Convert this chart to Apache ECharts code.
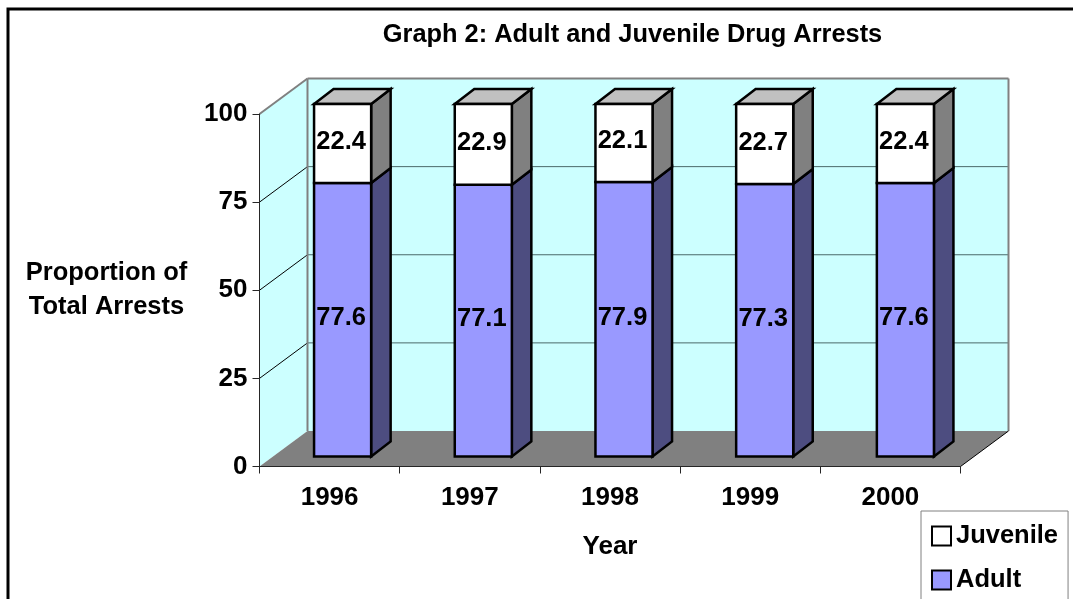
<!DOCTYPE html>
<html>
<head>
<meta charset="utf-8">
<style>
html, body { margin: 0; padding: 0; background: #fff; overflow: hidden; }
#chart { width: 1073px; height: 599px; }
</style>
<script src="https://cdn.jsdelivr.net/npm/echarts@6/dist/echarts.min.js"></script>
</head>
<body>
<div id="chart"></div>
<script>
var years = ["1996", "1997", "1998", "1999", "2000"];
var adult = [77.6, 77.1, 77.9, 77.3, 77.6];
var juvenile = [22.4, 22.9, 22.1, 22.7, 22.4];
var yTicks = [0, 25, 50, 75, 100];

var FONT = '"Liberation Sans", Arial, sans-serif';
var WALL_DX = 48, WALL_DY = 35.5;   // depth of the box
var BAR_IN_X = 13, BAR_IN_Y = 10;   // bars stand a little behind the front edge
var BAR_STEP = 0.5;                 // bars drift right of the axis ticks a bit
var BAR_DX = 19.5, BAR_DY = 15;     // depth of a bar
var BAR_WIDTH = 57 / 140;           // share of a category
var BAR_LINE = 2.5;

function poly(points, fill, stroke, width) {
  return {
    type: "polygon",
    shape: { points: points },
    style: { fill: fill, stroke: stroke || null, lineWidth: width || 0, lineJoin: "miter" }
  };
}

function line(x1, y1, x2, y2, color, width) {
  return {
    type: "line",
    shape: { x1: x1, y1: y1, x2: x2, y2: y2 },
    style: { stroke: color, lineWidth: width, fill: null }
  };
}

// walls, floor and gridlines of the 3D box
function renderBox(params, api) {
  var g = params.coordSys;
  var l = g.x, r = g.x + g.width;
  var bottom = api.coord([0, 0])[1], top = api.coord([0, 100])[1];
  var kids = [
    poly([[l, bottom], [l + WALL_DX, bottom - WALL_DY], [l + WALL_DX, top - WALL_DY], [l, top]], "#ccffff"),
    poly([[l + WALL_DX, bottom - WALL_DY], [r + WALL_DX, bottom - WALL_DY], [r + WALL_DX, top - WALL_DY], [l + WALL_DX, top - WALL_DY]], "#ccffff"),
    poly([[l, bottom], [r, bottom], [r + WALL_DX, bottom - WALL_DY], [l + WALL_DX, bottom - WALL_DY]], "#808080")
  ];
  yTicks.slice(1, -1).forEach(function (v) {
    var y = api.coord([0, v])[1];
    kids.push(line(l, y, l + WALL_DX, y - WALL_DY, "#000", 1));
    kids.push(line(l + WALL_DX, y - WALL_DY, r + WALL_DX, y - WALL_DY, "#4a6a6a", 1));
  });
  kids.push(line(l, top, l + WALL_DX, top - WALL_DY, "#808080", 2));
  kids.push(line(l + WALL_DX, top - WALL_DY, r + WALL_DX, top - WALL_DY, "#808080", 2));
  kids.push(line(l + WALL_DX, top - WALL_DY, l + WALL_DX, bottom - WALL_DY, "#808080", 2));
  kids.push(line(r + WALL_DX, top - WALL_DY, r + WALL_DX, bottom - WALL_DY, "#808080", 2));
  kids.push(line(l, top, l, bottom, "#404040", 1));
  kids.push(line(r, bottom, r + WALL_DX, bottom - WALL_DY, "#000", 1));
  return { type: "group", children: kids };
}

function barRenderer(front, side, withTop) {
  return function (params, api) {
    var i = api.value(0), base = api.value(1), end = api.value(2);
    var c0 = api.coord([i, base]), c1 = api.coord([i, end]);
    var w = api.size([1, 0])[0] * BAR_WIDTH;
    var x0 = c0[0] + BAR_IN_X + i * BAR_STEP - w / 2, x1 = x0 + w;
    var y0 = c0[1] - BAR_IN_Y, y1 = c1[1] - BAR_IN_Y;
    var kids = [
      poly([[x1, y0], [x1 + BAR_DX, y0 - BAR_DY], [x1 + BAR_DX, y1 - BAR_DY], [x1, y1]], side, "#000", BAR_LINE)
    ];
    if (withTop) {
      kids.push(poly([[x0, y1], [x1, y1], [x1 + BAR_DX, y1 - BAR_DY], [x0 + BAR_DX, y1 - BAR_DY]], "#c0c0c0", "#000", BAR_LINE));
    }
    kids.push(poly([[x0, y0], [x1, y0], [x1, y1], [x0, y1]], front, "#000", BAR_LINE));
    kids.push({
      type: "text",
      style: {
        x: (x0 + x1) / 2 - 1.5,
        y: (y0 + y1) / 2 - 1.5,
        text: (end - base).toFixed(1),
        font: "bold 25.5px " + FONT,
        fill: "#000",
        align: "center",
        verticalAlign: "middle"
      }
    });
    return { type: "group", children: kids };
  };
}

var chart = echarts.init(document.getElementById("chart"));
chart.setOption({
  animation: false,
  backgroundColor: "#fff",
  title: {
    text: "Graph 2: Adult and Juvenile Drug Arrests",
    left: 627.5,
    top: 17,
    textAlign: "center",
    textStyle: { fontFamily: FONT, fontSize: 25.4, fontWeight: "bold", color: "#000" }
  },
  graphic: [{
    type: "rect",
    z: -10,
    shape: { x: 8, y: 9, width: 1200, height: 800 },
    style: { fill: null, stroke: "#000", lineWidth: 3 }
  }],
  grid: { left: 259.5, right: 112.5, top: 114, bottom: 132.5, containLabel: false },
  legend: {
    orient: "vertical",
    left: 921,
    top: 511,
    height: 200,
    padding: [12, 10, 30, 10],
    itemWidth: 19,
    itemHeight: 19,
    itemGap: 18,
    icon: "rect",
    backgroundColor: "#fff",
    borderColor: "#808080",
    borderWidth: 1,
    data: ["Juvenile", "Adult"],
    textStyle: { fontFamily: FONT, fontSize: 25.5, fontWeight: "bold", color: "#000" },
    selectedMode: false
  },
  xAxis: {
    type: "category",
    data: years,
    name: "Year",
    nameLocation: "middle",
    nameGap: 67,
    nameTextStyle: { fontFamily: FONT, fontSize: 26, fontWeight: "bold", color: "#000" },
    z: 10,
    axisLine: { lineStyle: { color: "#262626", width: 1 } },
    axisTick: { show: true, length: 7, lineStyle: { color: "#262626" } },
    axisLabel: { fontFamily: FONT, fontSize: 26, fontWeight: "bold", color: "#000", margin: 18 }
  },
  yAxis: {
    type: "value",
    min: 0,
    max: 100,
    interval: 25,
    name: "Proportion of\nTotal Arrests",
    nameLocation: "middle",
    nameRotate: 0,
    nameGap: 153,
    nameTextStyle: { fontFamily: FONT, fontSize: 25.5, fontWeight: "bold", color: "#000", align: "center", lineHeight: 34 },
    z: 10,
    splitLine: { show: false },
    axisLine: { show: true, lineStyle: { color: "#262626", width: 1 } },
    axisTick: { show: true, length: 7, lineStyle: { color: "#262626" } },
    axisLabel: { fontFamily: FONT, fontSize: 26, fontWeight: "bold", color: "#000", margin: 12 }
  },
  tooltip: { show: false },
  series: [
    {
      type: "custom",
      name: "box",
      silent: true,
      renderItem: renderBox,
      data: [[0, 0]]
    },
    {
      type: "custom",
      name: "Adult",
      itemStyle: { color: "#9999ff", borderColor: "#000", borderWidth: 2 },
      renderItem: barRenderer("#9999ff", "#4d4d80", false),
      data: adult.map(function (v, i) { return [i, 0, v]; })
    },
    {
      type: "custom",
      name: "Juvenile",
      itemStyle: { color: "#ffffff", borderColor: "#000", borderWidth: 2 },
      renderItem: barRenderer("#ffffff", "#808080", true),
      data: juvenile.map(function (v, i) { return [i, adult[i], adult[i] + v]; })
    }
  ]
});
</script>
</body>
</html>
